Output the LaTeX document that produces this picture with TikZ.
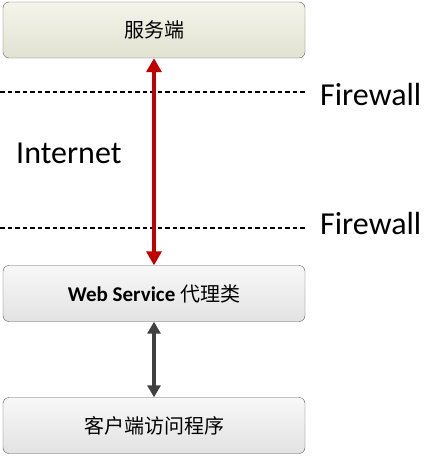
\documentclass[tikz,border=0pt]{standalone}
\usepackage{fontspec}
\setmainfont{Carlito}
\newfontfamily\cjk{Noto Sans CJK SC}
\usetikzlibrary{arrows.meta,positioning}

\definecolor{boxline}{HTML}{5A5A5A}
\definecolor{srvtop}{HTML}{F4F4EA}
\definecolor{srvbot}{HTML}{E2E2D2}
\definecolor{gtop}{HTML}{F8F8F8}
\definecolor{gbot}{HTML}{E2E2E2}
\definecolor{netred}{HTML}{C00000}

\tikzset{
  layerbox/.style={draw=boxline, rounded corners=6pt, minimum width=302pt,
    minimum height=56pt, inner sep=0pt, top color=gtop, bottom color=gbot},
  fwline/.style={line width=1.2pt, dash pattern=on 4.5pt off 3pt},
  fwtext/.style={font=\fontsize{32}{35}\selectfont, anchor=west, inner sep=0pt}
}

\begin{document}
\begin{tikzpicture}[x=1pt,y=-1pt]
  \useasboundingbox (0,0) rectangle (423,457);
  \node[layerbox, top color=srvtop, bottom color=srvbot] (server) at (154,30)
    {\cjk\fontsize{20}{22}\selectfont 服务端};
  \node[layerbox] (proxy) at (154,293.5)
    {\fontsize{21}{23}\selectfont\bfseries Web Service \cjk\mdseries\fontsize{20}{22}\selectfont 代理类};
  \node[layerbox] (client) at (154,425.5)
    {\cjk\fontsize{20}{22}\selectfont 客户端访问程序};

  % firewalls
  \coordinate (fw1a) at (0,92);
  \coordinate (fw1b) at (306,92);
  \coordinate (fw2a) at (0,228);
  \coordinate (fw2b) at (306,228);
  \draw[fwline] (fw1a) -- (fw1b);
  \draw[fwline] (fw2a) -- (fw2b);
  \node[fwtext] (fw1) at (320,95) {Firewall};
  \node[fwtext] (fw2) at (320,224) {Firewall};
  \node[fwtext] (net) at (16,153) {Internet};

  % connections
  \draw[netred, line width=4pt, {Triangle[width=15pt,length=14pt]}-{Triangle[width=15pt,length=14pt]}]
    (server) -- (proxy);
  \draw[black!75, line width=4pt, {Triangle[width=13pt,length=12pt]}-{Triangle[width=13pt,length=12pt]}]
    (proxy) -- (client);
\end{tikzpicture}
\end{document}
